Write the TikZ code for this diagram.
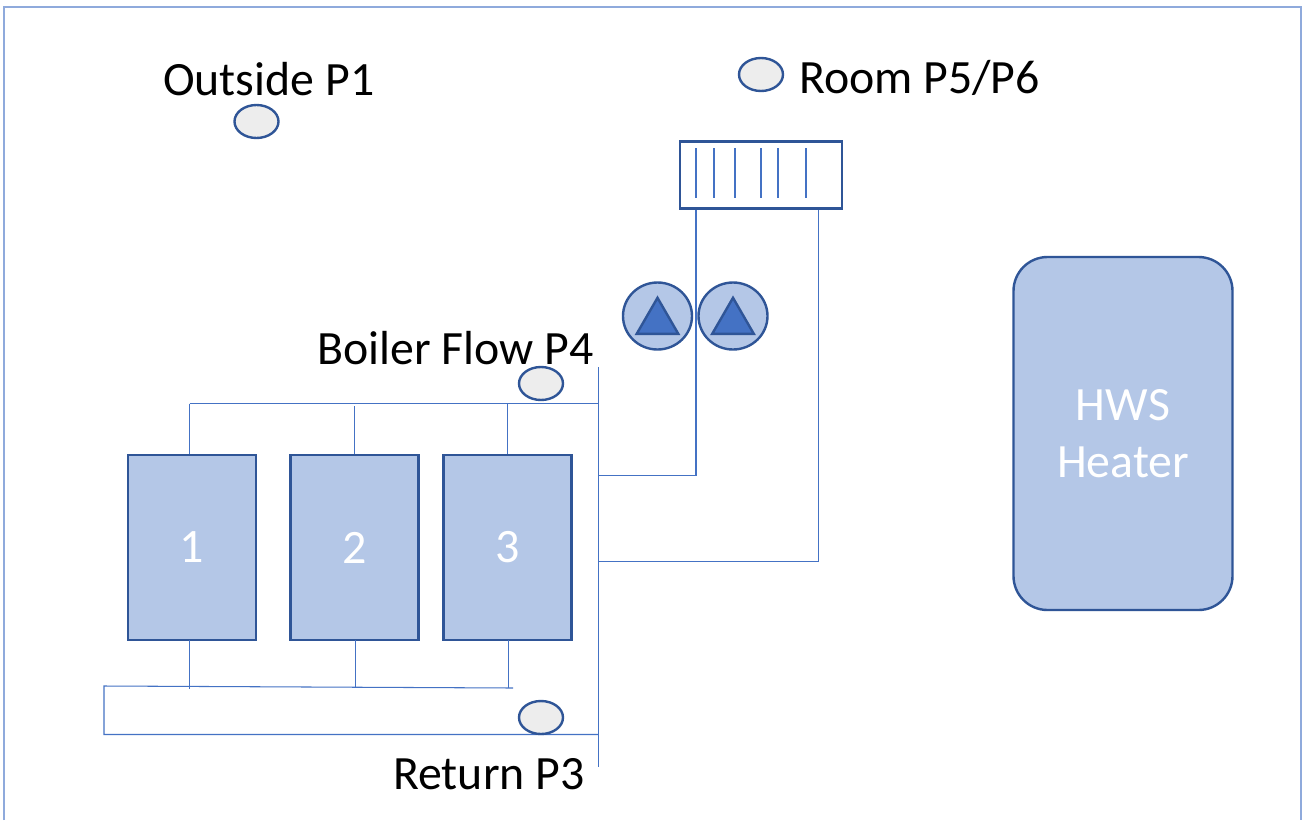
\documentclass[tikz,border=0pt]{standalone}
\usepackage{fontspec}
\setmainfont{Carlito}
\usetikzlibrary{shapes.geometric}
\definecolor{fillb}{HTML}{B4C7E7}
\definecolor{edgeb}{HTML}{2F5597}
\definecolor{pipe}{HTML}{4472C4}
\definecolor{frameb}{HTML}{8FAADC}
\definecolor{sens}{HTML}{EDEDED}
\tikzset{
  x=1pt,y=-1pt,
  boilerbox/.style={draw=edgeb,line width=2.8pt,fill=fillb,minimum width=128pt,minimum height=185pt,inner sep=0pt,text=white,font=\fontsize{48}{54}\selectfont},
  sensor/.style={ellipse,draw=edgeb,line width=2.4pt,fill=sens,minimum width=44pt,minimum height=33pt,inner sep=0pt},
  pumpc/.style={ellipse,draw=edgeb,line width=2.4pt,fill=fillb,minimum width=69pt,minimum height=67pt,inner sep=0pt},
  pumpt/.style={draw=edgeb,line width=2.4pt,fill=pipe,line join=miter},
  lab/.style={inner sep=0pt,text=black,anchor=base west,font=\fontsize{47.8}{54}\selectfont},
  pipeline/.style={draw=pipe,line width=1.05pt},
  fin/.style={draw=pipe,line width=1.05pt},
}
\begin{document}
\begin{tikzpicture}
\useasboundingbox (0,0) rectangle (1307,820);
\fill[white] (0,0) rectangle (1307,820);
\coordinate (fa) at (4,820); \coordinate (fb) at (4,7); \coordinate (fc) at (1301,7); \coordinate (fd) at (1301,820);
\draw[frameb,line width=2.8pt] (fa) -- (fb) -- (fc) -- (fd);

% main header
\coordinate (hT) at (598.5,367); \coordinate (hB) at (598.5,767);
\coordinate (fJ) at (598.5,403.5); \coordinate (fL) at (189.5,403.5);
\coordinate (r1) at (598.5,475.5); \coordinate (r1c) at (696,475.5);
\coordinate (r2) at (598.5,561.5); \coordinate (r2c) at (818.5,561.5);
\coordinate (rJ) at (598.5,734.5); \coordinate (rL) at (104,734.5);
\coordinate (rT) at (104,686); \coordinate (rR) at (513,688);

\node[boilerbox] (b1) at (192,547.5) {\raisebox{-1pt}{1}};
\node[boilerbox] (b2) at (354.5,547.5) {\raisebox{-1pt}{2}};
\node[boilerbox] (b3) at (507.5,547.5) {\raisebox{-1pt}{3}};

\node[draw=edgeb,line width=2.6pt,fill=white,minimum width=162pt,minimum height=67pt,inner sep=0pt] (rad) at (761,175) {};
\foreach \fx/\nm in {696/a,714/b,735/c,761/d,778/e,806/f}{
  \coordinate (f\nm t) at (\fx,148);
  \coordinate (f\nm b) at (\fx,198);
  \draw[fin] (f\nm t) -- (f\nm b);
}

% pipes
\draw[pipeline] (hT) -- (hB);
\draw[pipeline] (fL) -- (fJ);
\draw[pipeline] (fL) -- (fL |- b1.north);
\draw[pipeline] (354.5,406) -- (354.5,454);
\draw[pipeline] (507.5,404) -- (507.5,454);
\draw[pipeline] (r1) -- (r1c) -- (r1c |- rad.south);
\draw[pipeline] (r2) -- (r2c) -- (r2c |- rad.south);
\draw[pipeline] (rJ) -- (rL) -- (rT) -- (rR);
\draw[pipeline] (189.5,640) -- (189.5,689);
\draw[pipeline] (355.5,640) -- (355.5,688);
\draw[pipeline] (508.5,640) -- (508.5,688);

% pumps
\node[pumpc] (p1) at (657.5,316) {};
\node[pumpc] (p2) at (733,316) {};
\node[pumpt,isosceles triangle,isosceles triangle apex angle=60,shape border rotate=90,minimum height=36pt,inner sep=0pt,anchor=south] (t1) at (657.5,335) {};
\node[pumpt,isosceles triangle,isosceles triangle apex angle=60,shape border rotate=90,minimum height=36pt,inner sep=0pt,anchor=south] (t2) at (733,335) {};

% sensors
\node[sensor] (s1) at (256.5,121.5) {};
\node[sensor] (s2) at (761,74.5) {};
\node[sensor] (s3) at (541,383.5) {};
\node[sensor] (s4) at (541,717.5) {};

% HWS
\node[draw=edgeb,line width=2.4pt,fill=fillb,rounded corners=34pt,minimum width=219pt,minimum height=353pt,inner sep=0pt,text=white,align=center,font=\fontsize{47.8}{57.5}\selectfont] (hws) at (1123,433.5) {\raisebox{-2pt}{HWS}\\\raisebox{-2pt}{Heater}};

% labels
\node[lab] (l1) at (163,95) {Outside P1};
\node[lab] (l2) at (799,93) {Room P5/P6};
\node[lab] (l3) at (317,364) {Boiler Flow P4};
\node[lab] (l4) at (393,789) {Return P3};
\end{tikzpicture}
\end{document}
